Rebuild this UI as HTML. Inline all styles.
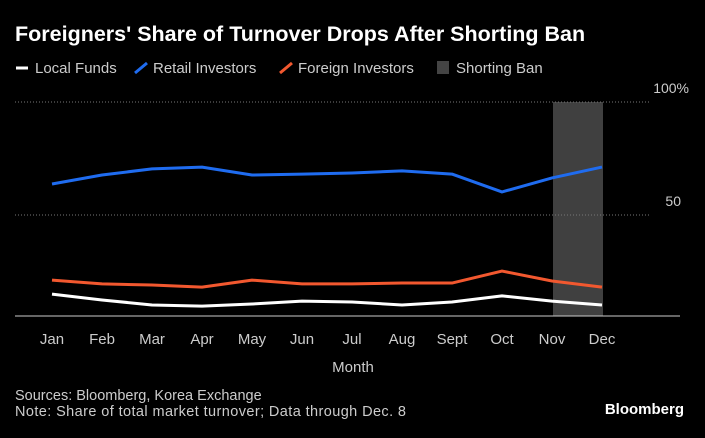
<!DOCTYPE html>
<html><head><meta charset="utf-8"><style>
body{margin:0;background:#000;width:705px;height:433px;overflow:hidden;font-family:"Liberation Sans",sans-serif;}
svg text{font-family:"Liberation Sans",sans-serif;}
</style></head><body>
<svg width="705" height="433" xmlns="http://www.w3.org/2000/svg">
<rect width="705" height="433" fill="#000"/>
<text x="15" y="41" fill="#fff" font-size="21.5" font-weight="bold">Foreigners' Share of Turnover Drops After Shorting Ban</text>
<g font-size="15" fill="#ccc">
<line x1="16" y1="68" x2="28" y2="68" stroke="#fff" stroke-width="3"/>
<text x="35" y="73">Local Funds</text>
<line x1="135" y1="73" x2="147" y2="63" stroke="#1f6cf0" stroke-width="3"/>
<text x="153" y="73">Retail Investors</text>
<line x1="280" y1="73" x2="292" y2="63" stroke="#f2582f" stroke-width="3"/>
<text x="298" y="73">Foreign Investors</text>
<rect x="437" y="61" width="12" height="13" fill="#444"/>
<text x="456" y="73">Shorting Ban</text>
</g>
<g id="plot"></g>
<text x="353" y="372" fill="#ccc" font-size="15" text-anchor="middle">Month</text>
<text x="15" y="400" fill="#ccc" font-size="14.5">Sources: Bloomberg, Korea Exchange</text>
<text x="15" y="416" fill="#ccc" font-size="14.5" textLength="391">Note: Share of total market turnover; Data through Dec. 8</text>
<text x="684" y="414" fill="#fff" font-size="15" font-weight="bold" text-anchor="end">Bloomberg</text>
</svg>
<script>
const months=["Jan","Feb","Mar","Apr","May","Jun","Jul","Aug","Sept","Oct","Nov","Dec"];
const retail=[63.7,67.7,70.4,71.2,67.7,68.1,68.6,69.5,68.1,60.2,66.4,71.2];
const foreign=[21.2,19.5,19.0,18.1,21.2,19.5,19.5,19.9,19.9,25.2,20.8,18.1];
const local=[15.0,12.4,10.2,9.7,10.6,11.9,11.5,10.2,11.5,14.2,11.9,10.2];
const yTicks=[50,100];
const banStart=10, banEnd=11;
const NS="http://www.w3.org/2000/svg";
const g=document.getElementById('plot');
const x=i=>52+i*50;
const y=v=>328-2.26*v;
const yMin=5.3;
function mk(t,a){const e=document.createElementNS(NS,t);for(const k in a)e.setAttribute(k,a[k]);g.appendChild(e);return e;}
let r=mk('rect',{x:x(banStart)+1,y:y(100),width:x(banEnd)-x(banStart),height:y(yMin)-y(100),fill:'#404040'});


yTicks.forEach(t=>{
 const l=mk('line',{x1:15,x2:650,y1:y(t),y2:y(t),stroke:'#777','stroke-dasharray':'1,2'});
 
 
 const tx=mk('text',{x:t===100?689:681,y:y(t)-9,fill:'#ccc','font-size':14,'text-anchor':'end'});
 tx.textContent=t===100?t+'%':t;
 
 
});
const ax=mk('line',{x1:15,x2:680,y1:y(yMin),y2:y(yMin),stroke:'#ccc','stroke-width':1});


months.forEach((m,i)=>{
 const t=mk('text',{x:x(i),y:344,fill:'#ccc','font-size':15,'text-anchor':'middle'});
 t.textContent=m;
 
 
});
[[local,'#fff','local-funds-line'],[foreign,'#f2582f','foreign-investors-line'],[retail,'#1f6cf0','retail-investors-line']].forEach(([d,c,n])=>{
 const p=mk('polyline',{points:d.map((v,i)=>x(i)+','+y(v)).join(' '),fill:'none',stroke:c,'stroke-width':3,'stroke-linejoin':'round'});
 
 
});
</script>
</body></html>
